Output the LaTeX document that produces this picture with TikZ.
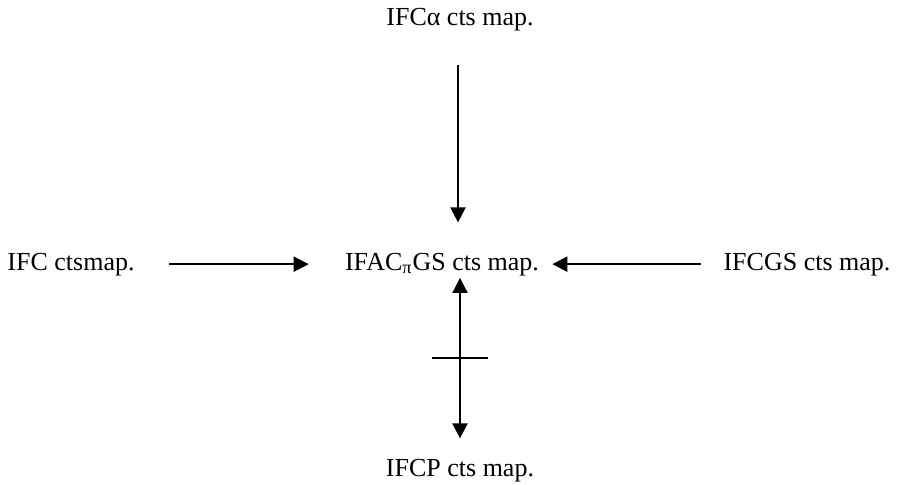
\documentclass[tikz,border=0pt]{standalone}
\usepackage{fontspec}
\setmainfont{Liberation Serif}
\usetikzlibrary{arrows.meta}
\begin{document}
\begin{tikzpicture}[x = 0.5pt, y = -0.5pt,
        lbl/.style = {anchor = base, inner sep = 0pt, font = \fontsize{13}{15}\selectfont},
        arr/.style = {line width = 1pt, -{Triangle[length = 7.5pt, width = 7.5pt]}},
        darr/.style = {line width = 1pt, {Triangle[length = 7.5pt, width = 7.5pt]}-{Triangle[length = 7.5pt, width = 7.5pt]}}
    ]
    \useasboundingbox (0, 0) rectangle (902, 484);
    \path
        (460, 25) node [lbl] (top) {IFCα cts map.}
        (71, 270) node [lbl] (left) {IFC ctsmap.}
        (442, 270) node [lbl] (centre) {IFAC\textsubscript{π}GS cts map.}
        (807, 270) node [lbl] (right) {IFCGS cts map.}
        (460, 476) node [lbl] (bottom) {IFCP cts map.}
    ;
    \draw [arr, shorten < = 17pt, shorten > = 18pt] (left) -- (centre);
    \draw [arr, shorten < = 11pt, shorten > = 6.5pt] (right) -- (centre);
    \draw [arr, shorten < = 17pt, shorten > = 15pt] ([xshift = -1pt] top.south) -- ([xshift = -1pt] top.south |- centre.north);
    \draw [darr, shorten < = 1pt, shorten > = 10pt] (bottom.north |- centre.south) -- (bottom.north)
        coordinate [pos = 0.45] (cross);
    \draw [line width = 1pt] ([xshift = -14pt] cross) -- ([xshift = 14pt] cross);
\end{tikzpicture}
\end{document}
